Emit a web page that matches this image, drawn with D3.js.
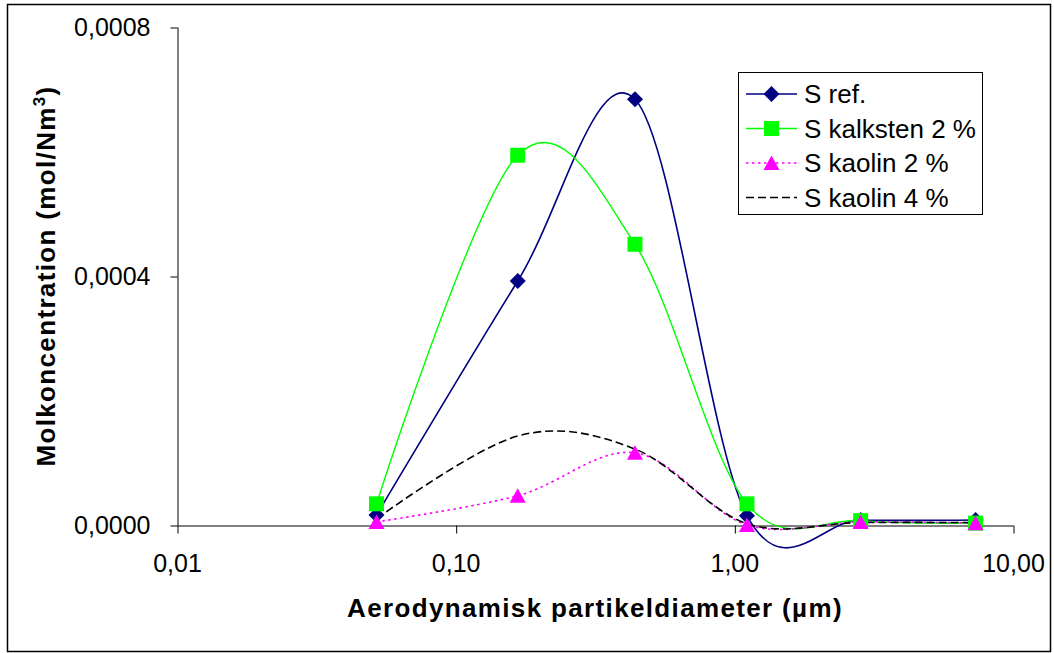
<!DOCTYPE html>
<html>
<head>
<meta charset="utf-8">
<script src="https://cdn.jsdelivr.net/npm/d3@7/dist/d3.min.js"></script>
<style>
  html, body { margin: 0; padding: 0; background: #fff; }
  svg { display: block; font-family: "Liberation Sans", Arial, sans-serif; }
</style>
</head>
<body>
<svg id="chart" width="1054" height="653"></svg>
<script>
// Particle diameters (µm) of the impactor stages
const diameters = [0.052, 0.167, 0.44, 1.11, 2.84, 7.34];

// Sulphur molar concentration per stage (mol/Nm3)
const sRef      = [0.000016, 0.000392, 0.000684, 0.000015, 0.000008, 0.000008];
const sKalksten = [0.000034, 0.000594, 0.000451, 0.000034, 0.000007, 0.000003];
const sKaolin2  = [0.000005, 0.000047, 0.000116, 0.000000, 0.000005, 0.000003];
const sKaolin4  = [0.000010, 0.000143, 0.000122, 0.000002, 0.000004, 0.000004];

const seriesNames = ["S ref.", "S kalksten 2 %", "S kaolin 2 %", "S kaolin 4 %"];

const xTickValues = [0.01, 0.1, 1, 10];
const xTickLabels = ["0,01", "0,10", "1,00", "10,00"];
const yTickValues = [0, 0.0004, 0.0008];
const yTickLabels = ["0,0000", "0,0004", "0,0008"];

const xTitle = "Aerodynamisk partikeldiameter (µm)";

const series = [
  { name: seriesNames[0], values: sRef,      color: "#000080", dash: null,  marker: "diamond" },
  { name: seriesNames[1], values: sKalksten, color: "#00ff00", dash: null,  marker: "square" },
  { name: seriesNames[2], values: sKaolin2,  color: "#ff00ff", dash: "2.5,3.5", marker: "triangle" },
  { name: seriesNames[3], values: sKaolin4,  color: "#000000", dash: "8,4", marker: null }
];

const svg = d3.select("#chart");

// outer chart frame
svg.append("rect")
  .attr("x", 7.5).attr("y", 4.5)
  .attr("width", 1043).attr("height", 647)
  .attr("fill", "#fff").attr("stroke", "#000").attr("stroke-width", 1.5);

const plot = { left: 177, right: 1013, top: 27, bottom: 525 };

const x = d3.scaleLog().domain([0.01, 10]).range([plot.left, plot.right]);
const y = d3.scaleLinear().domain([0, 0.0008]).range([plot.bottom, plot.top]);

// Y axis
const yAxis = d3.axisLeft(y)
  .tickValues(yTickValues)
  .tickFormat((d, i) => yTickLabels[i])
  .tickSize(7).tickSizeOuter(0).tickPadding(20);
const gy = svg.append("g").attr("transform", `translate(${plot.left + 0.5},0)`).call(yAxis);
gy.select(".domain").attr("stroke", "#000");
gy.selectAll(".tick line").attr("stroke", "#000").attr("transform", "translate(0,0.5)");
gy.selectAll(".tick text")
  .attr("font-size", 25).attr("fill", "#000")
  .attr("font-family", "'Liberation Sans', Arial, sans-serif");

// X axis
const xAxis = d3.axisBottom(x)
  .tickValues(xTickValues)
  .tickFormat((d, i) => xTickLabels[i])
  .tickSize(8).tickSizeOuter(0).tickPadding(21);
const gx = svg.append("g").attr("transform", `translate(0,${plot.bottom + 0.5})`).call(xAxis);
gx.select(".domain").attr("stroke", "#000");
gx.selectAll(".tick line").attr("stroke", "#000").attr("transform", "translate(0.5,0)");
gx.selectAll(".tick text")
  .attr("font-size", 25).attr("fill", "#000")
  .attr("font-family", "'Liberation Sans', Arial, sans-serif");

// axis titles
svg.append("text")
  .attr("x", (plot.left + plot.right) / 2)
  .attr("y", 617)
  .attr("text-anchor", "middle")
  .attr("font-size", 26).attr("font-weight", "bold")
  .attr("letter-spacing", "1.35px")
  .text(xTitle);

const yt = svg.append("text")
  .attr("transform", `translate(55,${(plot.top + plot.bottom) / 2}) rotate(-90)`)
  .attr("text-anchor", "middle")
  .attr("font-size", 26).attr("font-weight", "bold")
  .attr("letter-spacing", "1.35px");
yt.append("tspan").text("Molkoncentration (mol/Nm");
yt.append("tspan").attr("font-size", 17).attr("dy", -10).text("3");
yt.append("tspan").attr("dy", 10).text(")");

// smoothed series lines
const line = d3.line()
  .x((d, i) => x(diameters[i]))
  .y(d => y(d))
  .curve(d3.curveCatmullRom.alpha(0));

const gLines = svg.append("g");
series.forEach(s => {
  gLines.append("path")
    .datum(s.values)
    .attr("d", line)
    .attr("fill", "none")
    .attr("stroke", s.color)
    .attr("stroke-width", s.marker === "square" ? 1.4 : 1.6)
    .attr("stroke-dasharray", s.dash);
});

function markerPath(type) {
  if (type === "diamond") return "M0,-8L8,0L0,8L-8,0Z";
  if (type === "square") return "M-7.5,-7.5H7.5V7.5H-7.5Z";
  if (type === "triangle") return "M0,-7.5L8,7L-8,7Z";
  return null;
}

const gMarks = svg.append("g");
series.forEach(s => {
  if (!s.marker) return;
  gMarks.selectAll(null)
    .data(s.values)
    .join("path")
    .attr("transform", (d, i) => `translate(${x(diameters[i])},${y(d)})`)
    .attr("d", markerPath(s.marker))
    .attr("fill", s.color);
});

// legend
const legend = svg.append("g");
legend.append("rect")
  .attr("x", 738.5).attr("y", 72.5)
  .attr("width", 244).attr("height", 142)
  .attr("fill", "#fff").attr("stroke", "#000").attr("stroke-width", 1);

series.forEach((s, i) => {
  const cy = 94 + i * 34.5;
  const row = legend.append("g").attr("transform", `translate(0,${cy})`);
  row.append("line")
    .attr("x1", 746).attr("x2", 797).attr("y1", 0).attr("y2", 0)
    .attr("stroke", s.color).attr("stroke-width", 1.6)
    .attr("stroke-dasharray", s.dash);
  if (s.marker) {
    row.append("path")
      .attr("transform", "translate(771.5,0)")
      .attr("d", markerPath(s.marker))
      .attr("fill", s.color);
  }
  row.append("text")
    .attr("x", 804).attr("y", 9.3)
    .attr("font-size", 26).attr("fill", "#000")
    .text(s.name);
});
</script>
</body>
</html>
